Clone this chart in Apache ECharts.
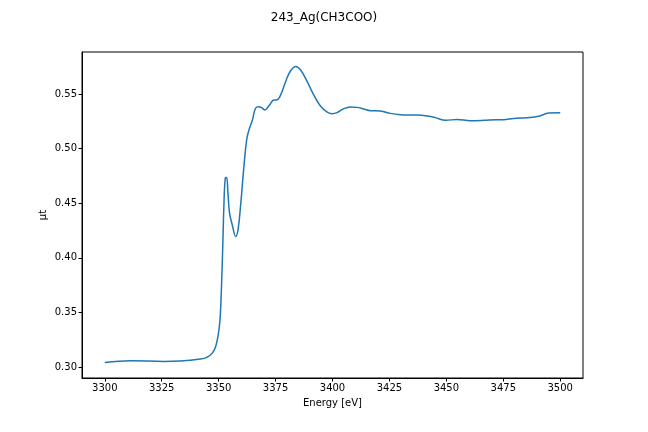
<!DOCTYPE html>
<html><head><meta charset="utf-8">
<script src="https://cdn.jsdelivr.net/npm/echarts@6/dist/echarts.min.js"></script>
<style>html,body{margin:0;padding:0;background:#fff}#c{width:648px;height:432px}</style>
</head><body><div id="c"></div>
<script>
const energy = [3300,3311.4,3326,3333,3342,3345,3347.2,3348.7,3349.7,3350.6,3351.2,3351.8,3352.3,3352.9,3353.5,3354.1,3354.8,3356,3357.5,3358.5,3359.6,3361.1,3362.3,3363.3,3364.8,3366.2,3367.7,3369.2,3370.3,3372.1,3374.3,3375.4,3377.2,3379.4,3381.6,3383.8,3386,3388.9,3391.8,3394.7,3397.7,3399.9,3402,3405,3407.9,3410.8,3413.7,3416.7,3421,3425.4,3429.8,3435.7,3440.8,3445.2,3449.6,3454.7,3460.5,3466.4,3472.2,3475.1,3479.5,3485.4,3490.5,3494.9,3500];
const mu = [0.3043,0.3058,0.3052,0.3055,0.3073,0.3091,0.3128,0.3189,0.328,0.3433,0.3707,0.410,0.447,0.4729,0.4735,0.459,0.4409,0.430,0.4195,0.4256,0.447,0.4835,0.508,0.517,0.526,0.537,0.5384,0.537,0.5354,0.5393,0.5445,0.5445,0.549,0.5613,0.5713,0.5753,0.572,0.5613,0.549,0.539,0.5335,0.532,0.533,0.5366,0.5381,0.5378,0.5363,0.5348,0.5345,0.5323,0.5311,0.5308,0.5302,0.5284,0.5259,0.5268,0.5256,0.5259,0.5265,0.5265,0.5277,0.5284,0.5296,0.5326,0.5329];
const xTicks = [3300,3325,3350,3375,3400,3425,3450,3475,3500];
const yTicks = [0.30,0.35,0.40,0.45,0.50,0.55];
const titleText = '243_Ag(CH3COO)';
const xName = 'Energy [eV]';
const yName = 'μt';

const font = 'DejaVu Sans';
const chart = echarts.init(document.getElementById('c'), null, {renderer:'canvas'});
chart.setOption({
  animation:false,
  title:{text:titleText,left:'center',top:7,textStyle:{fontFamily:font,fontSize:12,fontWeight:'normal',color:'#000'}},
  grid:{left:82,right:65,top:52,bottom:54,show:true,borderColor:'#000',borderWidth:1},
  xAxis:{type:'value',min:3290,max:3510,name:xName,nameLocation:'middle',nameGap:20,
    nameTextStyle:{fontFamily:font,fontSize:10,color:'#000'},
    axisLine:{show:true,onZero:false,lineStyle:{color:'#000'}},
    axisTick:{show:true,length:3.5,customValues:xTicks,lineStyle:{color:'#000'}},
    axisLabel:{customValues:xTicks,fontFamily:font,fontSize:10,color:'#000',margin:5,formatter:v=>String(v)},
    splitLine:{show:false}},
  yAxis:{type:'value',min:0.29,max:0.5885,name:yName,nameLocation:'middle',nameGap:34,nameRotate:90,nameMoveOverlap:false,
    nameTextStyle:{fontFamily:font,fontSize:10,color:'#000'},
    axisLine:{show:true,onZero:false,lineStyle:{color:'#000'}},
    axisTick:{show:true,length:3.5,customValues:yTicks,lineStyle:{color:'#000'}},
    axisLabel:{customValues:yTicks,fontFamily:font,fontSize:10,color:'#000',margin:5,formatter:v=>v.toFixed(2)},
    splitLine:{show:false}},
  series:[{type:'line',data:energy.map((e,i)=>[e,mu[i]]),showSymbol:false,smooth:0.4,
    lineStyle:{color:'#1f77b4',width:1.5}}]
});
</script></body></html>
